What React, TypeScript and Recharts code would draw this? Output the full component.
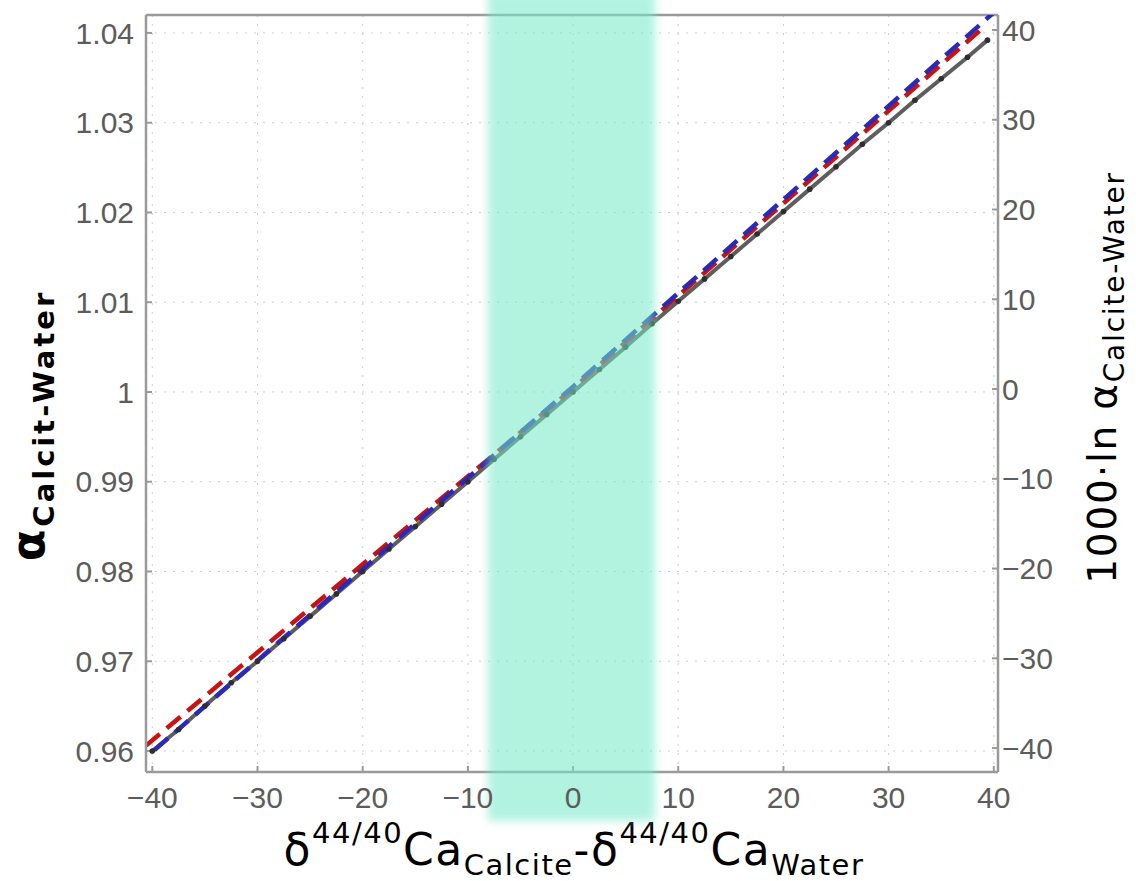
import React from 'react'
import { ComposedChart, Line, XAxis, YAxis, CartesianGrid, ReferenceArea, ReferenceLine, Label } from 'recharts'

// ticks
const xTicks = [-40, -30, -20, -10, 0, 10, 20, 30, 40]
const alphaTicks = [0.96, 0.97, 0.98, 0.99, 1, 1.01, 1.02, 1.03, 1.04]
const lnTicks = [-40, -30, -20, -10, 0, 10, 20, 30, 40]

// measured curve (grey, with markers)
const measuredX = [-40, -37.5, -35, -32.5, -30, -27.5, -25, -22.5, -20, -17.5, -15, -12.5, -10, -7.5, -5, -2.5, 0,
  2.5, 5, 7.5, 10, 12.5, 15, 17.5, 20, 22.5, 25, 27.5, 30, 32.5, 35, 37.5, 39.4]
const measuredAlpha = [0.9600, 0.9624, 0.9650, 0.9676, 0.9700, 0.9725, 0.9750, 0.9775, 0.9800, 0.9825, 0.9850, 0.9875,
  0.9900, 0.9925, 0.9950, 0.9975, 1.0000, 1.0025, 1.0050, 1.0076, 1.0101, 1.0126, 1.0151, 1.0176, 1.0201, 1.0226,
  1.0251, 1.0276, 1.0300, 1.0325, 1.0349, 1.0373, 1.0392]

// red dashed fit
const redX = [-40.6, 0, 38.8]
const redAlpha = [0.9606, 1.0004, 1.0404]

// blue dashed fit
const blueX = [-39.8, 0, 40.4]
const blueAlpha = [0.9601, 1.0006, 1.0427]

// shaded range of natural values
const bandX = [-8.1, 7.8]
const bandAlpha = [0.9522, 1.0445]

const alphaDomain = [0.95766, 1.042]
const lnDomain = [-42.67, 41.67]

const tickStyle = { fill: '#5c5c5c', fontSize: 30, fontFamily: 'Liberation Sans, Arial, sans-serif' }
const axisGrey = '#9a9a9a'
const labelFont = 'DejaVu Sans, sans-serif'

type Part = { t: string; k: 'n' | 'sup' | 'sub' }

function RichText({ parts, x, y, rotate, big, small, weight, spacing, sup, sub }: {
  parts: Part[]; x: number; y: number; rotate?: boolean; big: number; small: number
  weight?: string; spacing?: number; sup: number; sub: number
}) {
  const off = (k: string) => (k === 'sup' ? -sup : k === 'sub' ? sub : 0)
  let prev = 0
  return (
    <text x={x} y={y} textAnchor="middle" fill="#000" fontFamily={labelFont} fontWeight={weight ?? 'normal'}
      letterSpacing={spacing ?? 0} transform={rotate ? `rotate(-90 ${x} ${y})` : undefined}>
      {parts.map((p, i) => {
        const o = off(p.k)
        const dy = o - prev
        prev = o
        return <tspan key={i} dy={dy} fontSize={p.k === 'n' ? big : small}>{p.t}</tspan>
      })}
    </text>
  )
}

const xLabelParts: Part[] = [
  { t: 'δ', k: 'n' }, { t: '44/40', k: 'sup' }, { t: 'Ca', k: 'n' }, { t: 'Calcite', k: 'sub' },
  { t: '-δ', k: 'n' }, { t: '44/40', k: 'sup' }, { t: 'Ca', k: 'n' }, { t: 'Water', k: 'sub' },
]
const leftLabelParts: Part[] = [{ t: 'α', k: 'n' }, { t: 'Calcit-Water', k: 'sub' }]
const rightLabelParts: Part[] = [{ t: '1000·ln α', k: 'n' }, { t: 'Calcite-Water', k: 'sub' }]

function BandShape(props: any) {
  const { x, y, width, height } = props
  return (
    <g>
      <defs>
        <filter id="bandBlur" x="-20%" y="-20%" width="140%" height="140%">
          <feGaussianBlur stdDeviation="4.5" />
        </filter>
      </defs>
      <rect x={x} y={y} width={width} height={height} fill="#73e9c7" fillOpacity={0.55} filter="url(#bandBlur)" />
    </g>
  )
}

const fmtMinus = (v: number) => String(v).replace('-', '−')
const fmtAlpha = (v: number) => (v === 1 ? '1' : v.toFixed(2))

export default function App() {
  const measured = measuredX.map((x, i) => ({ x, a: measuredAlpha[i] }))
  const red = redX.map((x, i) => ({ x, a: redAlpha[i] }))
  const blue = blueX.map((x, i) => ({ x, a: blueAlpha[i] }))

  return (
    <div style={{ position: 'absolute', left: 0, top: 0, background: '#fff' }}>
      <ComposedChart width={1136} height={881} margin={{ top: 15, right: 0, bottom: 0, left: 0 }}>
        <CartesianGrid yAxisId="alpha" stroke="#cfcfcf" strokeDasharray="2 7" />
        <XAxis type="number" dataKey="x" domain={[-40, 40]} ticks={xTicks} interval={0} height={109}
          tickSize={-6} tickMargin={21} tick={tickStyle} tickFormatter={fmtMinus}
          axisLine={{ stroke: axisGrey, strokeWidth: 2.5 }} tickLine={{ stroke: axisGrey, strokeWidth: 2 }}>
          <Label content={(p: any) => (
            <RichText parts={xLabelParts} x={p.viewBox.x + p.viewBox.width / 2 + 2} y={p.viewBox.y + 93}
              big={44} small={29} spacing={1.5} sup={22} sub={10} />
          )} />
        </XAxis>
        <YAxis yAxisId="alpha" type="number" domain={alphaDomain} allowDataOverflow ticks={alphaTicks} interval={0}
          width={146} tickSize={-6} tickMargin={18} tick={tickStyle} tickFormatter={fmtAlpha}
          axisLine={{ stroke: axisGrey, strokeWidth: 2.5 }} tickLine={{ stroke: axisGrey, strokeWidth: 2 }}>
          <Label content={(p: any) => (
            <RichText parts={leftLabelParts} x={44} y={p.viewBox.y + p.viewBox.height / 2 + 32} rotate
              big={46} small={29} weight="bold" spacing={3} sup={0} sub={10} />
          )} />
        </YAxis>
        <YAxis yAxisId="ln" orientation="right" type="number" domain={lnDomain} allowDataOverflow ticks={lnTicks}
          interval={0} width={138} tickSize={-6} tickMargin={10} tick={tickStyle} tickFormatter={fmtMinus}
          axisLine={{ stroke: axisGrey, strokeWidth: 2.5 }} tickLine={{ stroke: axisGrey, strokeWidth: 2 }}>
          <Label content={(p: any) => (
            <RichText parts={rightLabelParts} x={p.viewBox.x + 118} y={p.viewBox.y + p.viewBox.height / 2 - 16} rotate
              big={39} small={28} spacing={1.8} sup={0} sub={8} />
          )} />
        </YAxis>
        <ReferenceLine yAxisId="alpha" y={alphaDomain[1]} stroke={axisGrey} strokeWidth={2.5} />
        <Line yAxisId="alpha" data={measured} dataKey="a" stroke="#5e5e5e" strokeWidth={4}
          dot={{ r: 2.8, fill: '#2e2e2e', stroke: 'none' }} isAnimationActive={false} />
        <Line yAxisId="alpha" data={red} dataKey="a" stroke="#cc1111" strokeWidth={4.5} strokeDasharray="18 9"
          dot={false} isAnimationActive={false} />
        <Line yAxisId="alpha" data={blue} dataKey="a" stroke="#2a2ab8" strokeWidth={4.5} strokeDasharray="18 9"
          dot={false} isAnimationActive={false} />
        <ReferenceArea yAxisId="alpha" x1={bandX[0]} x2={bandX[1]} y1={bandAlpha[0]} y2={bandAlpha[1]}
          ifOverflow="visible" shape={BandShape} zIndex={1500} />
      </ComposedChart>
    </div>
  )
}
